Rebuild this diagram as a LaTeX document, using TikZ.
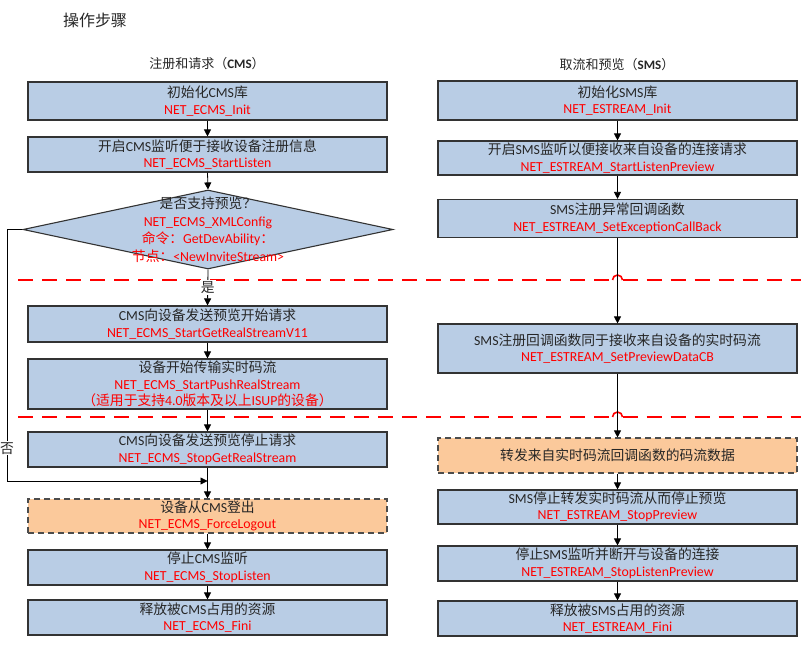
\documentclass[tikz,border=0pt]{standalone}
\usepackage{fontspec}
\setmainfont{Carlito}
\newfontfamily\cjk{Noto Sans CJK SC}
\usetikzlibrary{shapes.geometric,arrows.meta}
\definecolor{boxblue}{HTML}{B9CDE5}
\definecolor{boxorange}{HTML}{FBC99B}
\definecolor{cutred}{HTML}{FF0000}
\newcommand{\api}[1]{\textcolor{red}{#1}}
\newcommand{\zh}[1]{{\cjk #1}}

\begin{document}
\begin{tikzpicture}[x=1pt,y=-1pt,
                    box/.style={draw=black!80, line width=1.1pt, fill=boxblue, text=black!85,
                                minimum width=359pt, align=center, inner sep=0pt,
                                font=\fontsize{13.8}{16.5}\selectfont},
                    optbox/.style={box, fill=boxorange, draw=black!70, dash pattern=on 6pt off 4pt},
                    arr/.style={-{Triangle[length=7pt,width=7pt]}, line width=0.8pt},
                    cut/.style={draw=cutred, line width=1.6pt, dash pattern=on 15pt off 9pt},
                    hop/.style={draw=cutred, line width=1.6pt},
                    lbl/.style={fill=white, inner sep=1pt, text=black!85, font=\cjk\fontsize{13.8}{15}\selectfont},
                    head/.style={text=black!85, font=\fontsize{13}{15}\selectfont}]
\useasboundingbox (0,0) rectangle (801,655);
\node[head, font=\cjk\fontsize{16}{18}\selectfont] (title) at (95,20) {操作步骤};
\node[head] (lhead) at (207,64) {\zh{注册和请求（}\textbf{CMS}\zh{）}};
\node[head] (rhead) at (617,65) {\zh{取流和预览（}\textbf{SMS}\zh{）}};

\node[box, minimum height=38pt] (b1) at (207.5,101) {\zh{初始化}CMS\zh{库}\\\api{NET\_ECMS\_Init}};
\node[box, minimum height=35pt] (b2) at (207.5,154.5) {\zh{开启}CMS\zh{监听便于接收设备注册信息}\\\api{NET\_ECMS\_StartListen}};
\node[draw=black!80, line width=1.1pt, fill=boxblue, diamond, minimum width=370pt,
      minimum height=79pt, inner sep=0pt] (chk) at (208,229.5) {};
\node[align=center, text=black!85, font=\fontsize{13.8}{17.5}\selectfont] (chktxt) at (chk)
     {\zh{是否支持预览？}\\\api{NET\_ECMS\_XMLConfig}\\\api{\zh{命令：}GetDevAbility\zh{：}}\\\api{\zh{节点：}<NewInviteStream>}};
\node[box, minimum height=36pt] (b3) at (207.5,324) {CMS\zh{向设备发送预览开始请求}\\\api{NET\_ECMS\_StartGetRealStreamV11}};
\node[box, minimum height=50pt] (b4) at (207.5,384) {\zh{设备开始传输实时码流}\\\api{NET\_ECMS\_StartPushRealStream}\\\api{\zh{（适用于支持}4.0\zh{版本及以上}ISUP\zh{的设备）}}};
\node[box, minimum height=35pt] (b5) at (207.5,449.5) {CMS\zh{向设备发送预览停止请求}\\\api{NET\_ECMS\_StopGetRealStream}};
\node[optbox, minimum height=34pt] (b6) at (207.5,516) {\zh{设备从}CMS\zh{登出}\\\api{NET\_ECMS\_ForceLogout}};
\node[box, minimum height=35pt] (b7) at (207.5,567.5) {\zh{停止}CMS\zh{监听}\\\api{NET\_ECMS\_StopListen}};
\node[box, minimum height=35pt] (b8) at (207.5,617.5) {\zh{释放被}CMS\zh{占用的资源}\\\api{NET\_ECMS\_Fini}};

\node[box, minimum height=39pt] (r1) at (617.5,100.5) {\zh{初始化}SMS\zh{库}\\\api{NET\_ESTREAM\_Init}};
\node[box, minimum height=34pt] (r2) at (617.5,158) {\zh{开启}SMS\zh{监听以便接收来自设备的连接请求}\\\api{NET\_ESTREAM\_StartListenPreview}};
\node[box, minimum height=38pt] (r3) at (617.5,218.5) {SMS\zh{注册异常回调函数}\\\api{NET\_ESTREAM\_SetExceptionCallBack}};
\node[box, minimum height=49pt] (r4) at (617.5,348.5) {SMS\zh{注册回调函数同于接收来自设备的实时码流}\\\api{NET\_ESTREAM\_SetPreviewDataCB}};
\node[optbox, minimum height=35pt] (r5) at (617.5,455.5) {\zh{转发来自实时码流回调函数的码流数据}};
\node[box, minimum height=34pt] (r6) at (617.5,507) {SMS\zh{停止转发实时码流从而停止预览}\\\api{NET\_ESTREAM\_StopPreview}};
\node[box, minimum height=35pt] (r7) at (617.5,563.5) {\zh{停止}SMS\zh{监听并断开与设备的连接}\\\api{NET\_ESTREAM\_StopListenPreview}};
\node[box, minimum height=35pt] (r8) at (617.5,618.5) {\zh{释放被}SMS\zh{占用的资源}\\\api{NET\_ESTREAM\_Fini}};

\draw[cut] (18,280) -- (612.5,280);
\draw[cut] (622.5,280) -- (801,280);
\draw[hop] (612.5,280) arc[start angle=180, end angle=0, radius=5pt];
\draw[cut] (18,417) -- (612.5,417);
\draw[cut] (622.5,417) -- (801,417);
\draw[hop] (612.5,417) arc[start angle=180, end angle=0, radius=5pt];

\coordinate (lp1) at (7,229.5);
\coordinate (lp2) at (7,481);
\coordinate (join) at (207.5,481);
\draw[arr] (b1) -- (b2);
\draw[arr] (b2.south) -- (chk.north);
\draw[arr] (chk.south) -- node[lbl] {是} (b3.north);
\draw[arr] (b3) -- (b4);
\draw[arr] (b4) -- (b5);
\draw[arr] (b5) -- (b6);
\draw[arr] (b6) -- (b7);
\draw[arr] (b7) -- (b8);
\draw[arr] (chk.west) -- (lp1) -- node[lbl, pos=0.87] {否} (lp2) -- (join);
\draw[arr] (r1) -- (r2);
\draw[arr] (r2) -- (r3);
\draw[arr] (r3) -- (r4);
\draw[arr] (r4) -- (r5);
\draw[arr] (r5) -- (r6);
\draw[arr] (r6) -- (r7);
\draw[arr] (r7) -- (r8);
\end{tikzpicture}
\end{document}
